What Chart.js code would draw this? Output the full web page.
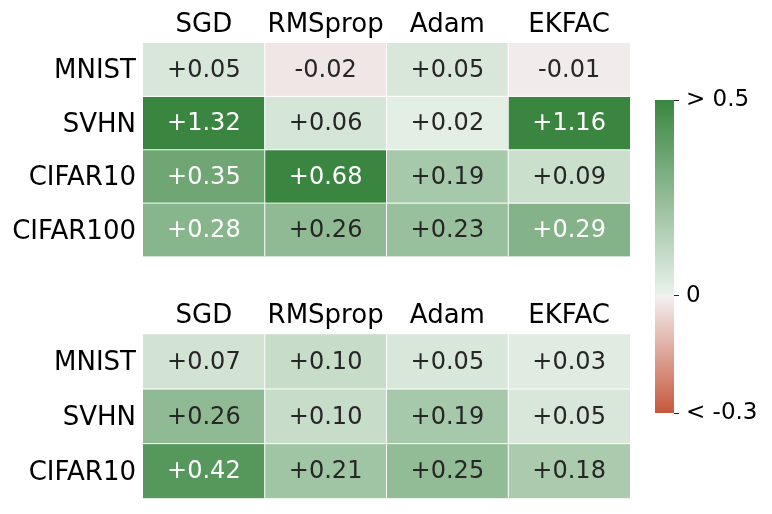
<!DOCTYPE html>
<html>
<head>
<meta charset="utf-8">
<script src="https://cdn.jsdelivr.net/npm/chart.js@4"></script>
<style>
  html, body { margin: 0; padding: 0; background: #fff; }
  body { width: 772px; height: 514px; position: relative; overflow: hidden; }
  canvas { position: absolute; }
</style>
</head>
<body>
<canvas id="top" width="640" height="280" style="left:0;top:0;width:640px;height:280px"></canvas>
<canvas id="bot" width="640" height="251" style="left:0;top:270px;width:640px;height:251px"></canvas>
<canvas id="cbar" width="132" height="365" style="left:640px;top:70px;width:132px;height:365px"></canvas>
<script>
// ---- data ----
const optimizers = ['SGD', 'RMSprop', 'Adam', 'EKFAC'];
const topRows = ['MNIST', 'SVHN', 'CIFAR10', 'CIFAR100'];
const topMNIST = [0.05, -0.02, 0.05, -0.01];
const topSVHN = [1.32, 0.06, 0.02, 1.16];
const topCIFAR10 = [0.35, 0.68, 0.19, 0.09];
const topCIFAR100 = [0.28, 0.26, 0.23, 0.29];
const botRows = ['MNIST', 'SVHN', 'CIFAR10'];
const botMNIST = [0.07, 0.10, 0.05, 0.03];
const botSVHN = [0.26, 0.10, 0.19, 0.05];
const botCIFAR10 = [0.42, 0.21, 0.25, 0.18];
const cbarMin = -0.3, cbarMax = 0.5;
const cbarTicks = [-0.3, 0, 0.5];
const cbarLabels = ['< -0.3', '0', '> 0.5'];

// ---- colormap ----
const cmapStops = [
  { v: -0.3, c: [198, 88, 62] },
  { v: -0.001, c: [243, 240, 240] },
  { v: 0.0, c: [242, 242, 242] },
  { v: 0.001, c: [234, 242, 235] },
  { v: 0.5, c: [58, 134, 65] }
];
function cmapRGB(v) {
  if (v <= cmapStops[0].v) return cmapStops[0].c;
  const last = cmapStops[cmapStops.length - 1];
  if (v >= last.v) return last.c;
  for (let i = 0; i < cmapStops.length - 1; i++) {
    const a = cmapStops[i], b = cmapStops[i + 1];
    if (v >= a.v && v <= b.v) {
      const t = (v - a.v) / (b.v - a.v);
      return a.c.map((x, k) => Math.round(x + (b.c[k] - x) * t));
    }
  }
  return last.c;
}
function cmap(v) { const c = cmapRGB(v); return `rgb(${c[0]},${c[1]},${c[2]})`; }
function textColor(v) {
  const c = cmapRGB(v).map(x => { x /= 255; return x <= 0.03928 ? x / 12.92 : Math.pow((x + 0.055) / 1.055, 2.4); });
  const lum = 0.2126 * c[0] + 0.7152 * c[1] + 0.0722 * c[2];
  return lum > 0.408 ? '#262626' : '#ffffff';
}
function fmt(v) { return (v >= 0 ? '+' : '') + v.toFixed(2); }

const FONT = 'DejaVu Sans';

const heatPlugin = {
  id: 'heat',
  afterDatasetsDraw(chart) {
    const ctx = chart.ctx;
    const { left, right, top, bottom } = chart.chartArea;
    const xs = chart.scales.x, ys = chart.scales.y;
    const nCols = chart.data.labels.length;
    const nRows = chart.data.datasets.length;
    ctx.save();
    // white separators
    ctx.strokeStyle = '#ffffff';
    ctx.lineWidth = 1;
    ctx.beginPath();
    for (let j = 1; j < nCols; j++) {
      const x = (xs.getPixelForValue(j - 1) + xs.getPixelForValue(j)) / 2;
      ctx.moveTo(x, top); ctx.lineTo(x, bottom);
    }
    for (let i = 1; i < nRows; i++) {
      const y = ys.getPixelForValue(i);
      ctx.moveTo(left, y); ctx.lineTo(right, y);
    }
    ctx.stroke();
    // annotations
    ctx.font = `24px "${FONT}"`;
    ctx.textAlign = 'center';
    ctx.textBaseline = 'middle';
    chart.data.datasets.forEach((ds, i) => {
      const meta = chart.getDatasetMeta(i);
      meta.data.forEach((el, j) => {
        const p = el.getProps(['x', 'y', 'base']);
        const v = ds.values[j];
        ctx.fillStyle = textColor(v);
        ctx.fillText(fmt(v), p.x, (p.y + p.base) / 2 + 1);
      });
    });
    ctx.restore();
  }
};

function makeHeat(id, rows, rowValues, areaTop, padBottom) {
  const datasets = rows.map((r, i) => ({
    label: r,
    values: rowValues[i],
    data: optimizers.map(() => [i, i + 1]),
    backgroundColor: rowValues[i].map(cmap),
    borderWidth: 0,
    borderSkipped: false,
    grouped: false,
    barPercentage: 1,
    categoryPercentage: 1
  }));
  return new Chart(document.getElementById(id), {
    type: 'bar',
    data: { labels: optimizers, datasets },
    options: {
      responsive: false,
      animation: false,
      events: [],
      layout: { padding: { left: 0, top: 0, right: 10, bottom: padBottom } },
      plugins: { legend: { display: false }, tooltip: { enabled: false } },
      scales: {
        x: {
          type: 'category',
          position: 'top',
          offset: true,
          grid: { display: false, drawTicks: false },
          border: { display: false },
          ticks: { font: { family: FONT, size: 26 }, color: '#000', padding: 2, autoSkip: false, maxRotation: 0 },
          afterFit(s) { s.height = areaTop; }
        },
        y: {
          type: 'linear',
          min: 0,
          max: rows.length,
          reverse: true,
          grid: { display: false, drawTicks: false },
          border: { display: false },
          ticks: {
            font: { family: FONT, size: 26 }, color: '#000', padding: 7, labelOffset: 2,
            callback: (v, idx) => rows[idx]
          },
          afterBuildTicks(s) { s.ticks = rows.map((r, i) => ({ value: i + 0.5 })); },
          afterFit(s) { s.width = 143; }
        }
      }
    },
    plugins: [heatPlugin]
  });
}

makeHeat('top', topRows, [topMNIST, topSVHN, topCIFAR10, topCIFAR100], 43, 23.5);
makeHeat('bot', botRows, [botMNIST, botSVHN, botCIFAR10], 64.3, 22.7);

// ---- colorbar ----
new Chart(document.getElementById('cbar'), {
  type: 'bar',
  data: {
    labels: [''],
    datasets: [{
      data: [[cbarMin, cbarMax]],
      borderWidth: 0,
      borderSkipped: false,
      barPercentage: 1,
      categoryPercentage: 1,
      backgroundColor(ctx) {
        const chart = ctx.chart;
        if (!chart.chartArea) return '#ccc';
        const ys = chart.scales.y;
        const y0 = ys.getPixelForValue(cbarMin), y1 = ys.getPixelForValue(cbarMax);
        const g = chart.ctx.createLinearGradient(0, y0, 0, y1);
        cmapStops.forEach(s => g.addColorStop((s.v - cbarMin) / (cbarMax - cbarMin), cmap(s.v)));
        return g;
      }
    }]
  },
  options: {
    responsive: false,
    animation: false,
    events: [],
    layout: { padding: { left: 15, top: 30, right: 0, bottom: 22 } },
    plugins: { legend: { display: false }, tooltip: { enabled: false } },
    scales: {
      x: { display: false, offset: true },
      y: {
        type: 'linear',
        position: 'right',
        min: cbarMin,
        max: cbarMax,
        grid: { display: true, drawOnChartArea: false, drawTicks: true, tickLength: 5, color: '#262626', lineWidth: 1 },
        border: { display: false },
        ticks: {
          font: { family: FONT, size: 23 }, color: '#000', padding: 7,
          callback: (v, idx) => cbarLabels[idx]
        },
        afterBuildTicks(s) { s.ticks = cbarTicks.map(v => ({ value: v })); },
        afterFit(s) { s.width = 98; }
      }
    }
  }
});
</script>
</body>
</html>
